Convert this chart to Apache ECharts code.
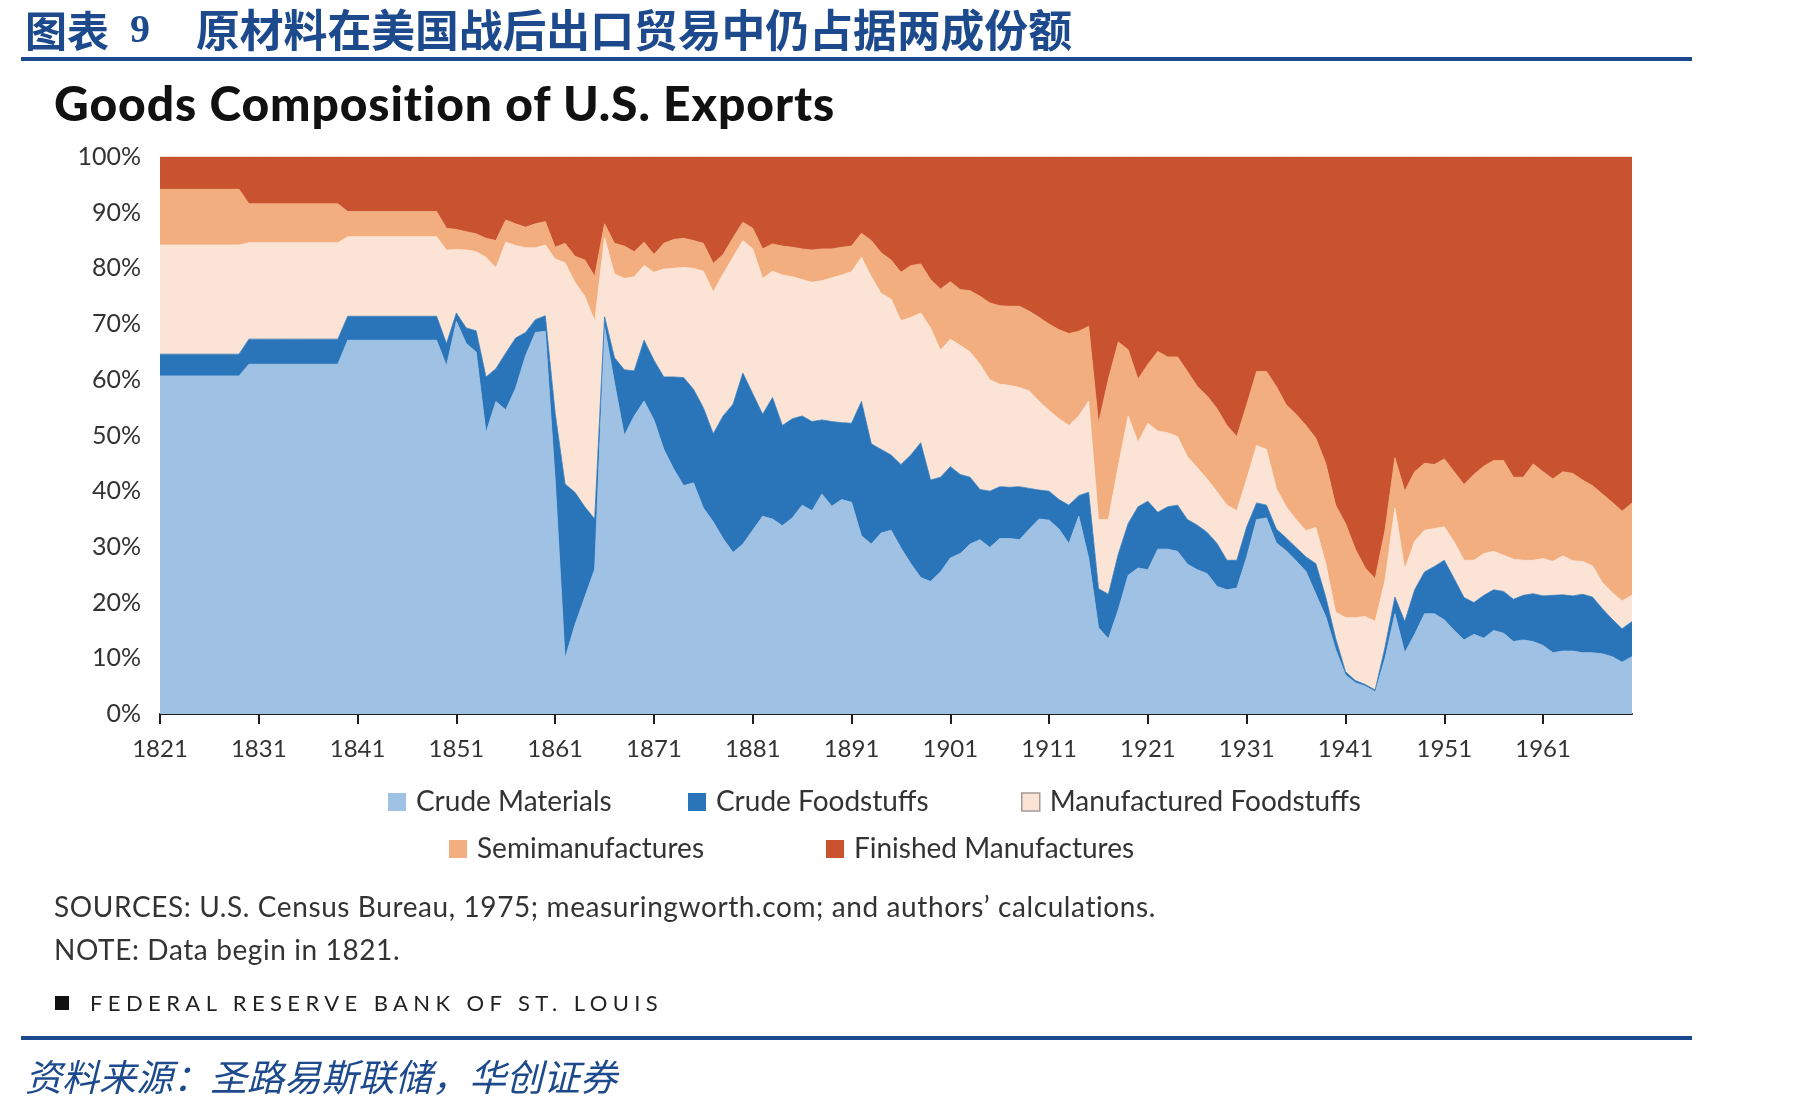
<!DOCTYPE html>
<html>
<head>
<meta charset="utf-8">
<title>Goods Composition of U.S. Exports</title>
<script src="https://cdn.jsdelivr.net/npm/echarts@6.0.0/dist/echarts.min.js"></script>
<style>
  html, body { margin: 0; padding: 0; background: #fff; }
  #page { position: relative; width: 1801px; height: 1108px; overflow: hidden; }
  #chart { position: absolute; left: 0; top: 0; width: 1801px; height: 1108px; }
  .txt { position: absolute; white-space: nowrap; }
  .rule { position: absolute; left: 21px; width: 1671px; height: 4px; background: #1d4a8c; }
  .cn { color: #1d4a8c; font-family: "Noto Sans CJK SC", sans-serif; }
  .en { font-family: Lato, "Open Sans", sans-serif; color: #333; }
</style>
</head>
<body>
<div id="page">
  <div id="chart"></div>

  <div class="txt cn" style="left:25px; top:5px; line-height:48px; font-size:42px; font-weight:700;">图表</div>
  <div class="txt" style="left:130px; top:5px; line-height:48px; font-size:40px; font-weight:700; color:#1d4a8c; font-family:'Liberation Serif', serif;">9</div>
  <div class="txt cn" style="left:196px; top:4px; line-height:48px; font-size:43.8px; font-weight:700;">原材料在美国战后出口贸易中仍占据两成份额</div>
  <div class="rule" style="top:57px;"></div>

  <div class="txt en" style="left:54px; top:74px; line-height:58px; font-size:48px; font-weight:900; letter-spacing:0.9px; color:#111;">Goods Composition of U.S. Exports</div>

  <div class="txt en" style="left:54px; top:890px; line-height:32px; font-size:28px; letter-spacing:0.6px;">SOURCES: U.S. Census Bureau, 1975; measuringworth.com; and authors’ calculations.</div>
  <div class="txt en" style="left:54px; top:933px; line-height:32px; font-size:28px; letter-spacing:0.6px;">NOTE: Data begin in 1821.</div>
  <div style="position:absolute; left:55px; top:996px; width:14px; height:14px; background:#111;"></div>
  <div class="txt en" style="left:90px; top:989px; line-height:28px; font-size:22px; letter-spacing:5.4px; color:#222;">FEDERAL RESERVE BANK OF ST. LOUIS</div>

  <div class="rule" style="top:1036px;"></div>
  <div class="txt cn" style="left:25px; top:1050px; line-height:50px; font-size:37px; font-style:italic;">资料来源：圣路易斯联储，华创证券</div>
</div>

<script>
// shares of total exports (%), one value per year 1821-1970
const years = [
  1821, 1822, 1823, 1824, 1825, 1826, 1827, 1828, 1829, 1830,
  1831, 1832, 1833, 1834, 1835, 1836, 1837, 1838, 1839, 1840,
  1841, 1842, 1843, 1844, 1845, 1846, 1847, 1848, 1849, 1850,
  1851, 1852, 1853, 1854, 1855, 1856, 1857, 1858, 1859, 1860,
  1861, 1862, 1863, 1864, 1865, 1866, 1867, 1868, 1869, 1870,
  1871, 1872, 1873, 1874, 1875, 1876, 1877, 1878, 1879, 1880,
  1881, 1882, 1883, 1884, 1885, 1886, 1887, 1888, 1889, 1890,
  1891, 1892, 1893, 1894, 1895, 1896, 1897, 1898, 1899, 1900,
  1901, 1902, 1903, 1904, 1905, 1906, 1907, 1908, 1909, 1910,
  1911, 1912, 1913, 1914, 1915, 1916, 1917, 1918, 1919, 1920,
  1921, 1922, 1923, 1924, 1925, 1926, 1927, 1928, 1929, 1930,
  1931, 1932, 1933, 1934, 1935, 1936, 1937, 1938, 1939, 1940,
  1941, 1942, 1943, 1944, 1945, 1946, 1947, 1948, 1949, 1950,
  1951, 1952, 1953, 1954, 1955, 1956, 1957, 1958, 1959, 1960,
  1961, 1962, 1963, 1964, 1965, 1966, 1967, 1968, 1969, 1970
]

const crudeMaterials = [
  60.7, 60.7, 60.7, 60.7, 60.7, 60.7, 60.7, 60.7, 60.7, 62.8,
  62.8, 62.8, 62.8, 62.8, 62.8, 62.8, 62.8, 62.8, 62.8, 67.1,
  67.1, 67.1, 67.1, 67.1, 67.1, 67.1, 67.1, 67.1, 67.1, 62.5,
  70.5, 66.5, 65.0, 50.5, 56.1, 54.6, 58.5, 64.3, 68.5, 68.7,
  42.0, 10.0, 16.0, 21.0, 26.0, 69.5, 59.5, 50.0, 53.5, 56.2,
  52.8, 47.5, 44.0, 41.0, 41.5, 37.0, 34.5, 31.5, 29.0, 30.5,
  33.0, 35.5, 35.0, 33.8, 35.2, 37.5, 36.5, 39.5, 37.3, 38.5,
  38.0, 32.0, 30.5, 32.5, 33.0, 29.8, 27.0, 24.5, 23.8, 25.5,
  28.0, 28.8, 30.5, 31.3, 29.9, 31.5, 31.5, 31.3, 33.2, 35.0,
  34.8, 33.2, 30.6, 35.5, 28.0, 15.5, 13.5, 18.7, 24.9, 26.2,
  25.9, 29.6, 29.6, 29.2, 26.9, 25.9, 25.2, 22.9, 22.3, 22.6,
  28.2, 34.9, 35.2, 30.7, 29.3, 27.5, 25.6, 21.5, 17.5, 11.6,
  7.0, 5.6, 5.0, 4.0, 10.0, 18.0, 11.0, 14.3, 18.0, 18.0,
  16.9, 15.0, 13.3, 14.3, 13.6, 15.0, 14.5, 13.0, 13.3, 13.0,
  12.3, 11.0, 11.3, 11.3, 11.0, 11.0, 10.8, 10.3, 9.3, 10.3
]

const crudeFoodstuffs = [
  3.9, 3.9, 3.9, 3.9, 3.9, 3.9, 3.9, 3.9, 3.9, 4.5,
  4.5, 4.5, 4.5, 4.5, 4.5, 4.5, 4.5, 4.5, 4.5, 4.3,
  4.3, 4.3, 4.3, 4.3, 4.3, 4.3, 4.3, 4.3, 4.3, 4.0,
  1.5, 2.8, 3.8, 10.0, 5.9, 10.2, 9.0, 4.2, 2.3, 2.8,
  12.0, 31.3, 23.8, 16.2, 9.0, 1.8, 4.5, 11.8, 8.1, 10.9,
  10.7, 13.0, 16.5, 19.4, 16.8, 18.0, 15.8, 22.0, 26.6, 30.7,
  24.5, 18.3, 21.8, 18.0, 17.8, 16.0, 16.0, 13.3, 15.2, 13.8,
  14.2, 24.1, 18.0, 15.0, 13.5, 15.0, 19.5, 24.2, 18.2, 17.0,
  16.4, 14.2, 12.0, 9.0, 10.1, 9.3, 9.2, 9.5, 7.3, 5.2,
  5.2, 5.3, 6.9, 3.7, 11.8, 7.0, 8.0, 10.0, 9.3, 11.0,
  12.3, 6.6, 7.6, 8.3, 8.0, 8.0, 7.4, 7.7, 5.3, 5.0,
  5.4, 3.0, 2.3, 2.5, 2.3, 2.4, 2.6, 5.5, 3.5, 2.0,
  0.6, 0.4, 0.3, 0.3, 2.0, 3.0, 5.6, 8.0, 7.5, 8.5,
  10.7, 9.3, 7.6, 5.7, 7.7, 7.3, 7.5, 7.6, 8.0, 8.6,
  8.9, 10.3, 10.1, 9.9, 10.5, 10.0, 8.1, 6.7, 6.0, 6.3
]

const manufacturedFoodstuffs = [
  19.6, 19.6, 19.6, 19.6, 19.6, 19.6, 19.6, 19.6, 19.6, 17.3,
  17.3, 17.3, 17.3, 17.3, 17.3, 17.3, 17.3, 17.3, 17.3, 14.3,
  14.3, 14.3, 14.3, 14.3, 14.3, 14.3, 14.3, 14.3, 14.3, 16.8,
  11.4, 14.0, 14.2, 21.5, 18.1, 19.9, 16.6, 15.2, 12.9, 12.7,
  27.7, 39.7, 37.7, 37.8, 35.5, 14.2, 15.0, 16.4, 16.9, 13.4,
  15.8, 19.4, 19.5, 19.8, 21.7, 24.5, 25.5, 25.5, 26.4, 23.8,
  26.0, 24.4, 22.7, 27.0, 25.5, 24.5, 25.0, 25.0, 25.8, 26.5,
  27.2, 25.9, 30.0, 28.0, 28.0, 25.8, 24.7, 23.3, 27.3, 22.8,
  22.9, 23.2, 22.5, 22.5, 20.0, 18.4, 18.3, 17.8, 17.5, 15.9,
  14.5, 14.5, 14.3, 14.3, 16.4, 12.4, 13.4, 15.8, 19.3, 11.6,
  14.0, 14.6, 13.3, 12.3, 11.3, 10.3, 9.6, 9.3, 9.9, 8.9,
  8.6, 10.3, 10.0, 7.3, 5.6, 5.0, 4.7, 6.5, 6.0, 4.7,
  9.7, 11.3, 12.2, 12.3, 12.0, 16.0, 9.4, 8.7, 7.5, 6.8,
  6.0, 6.6, 6.7, 7.6, 7.5, 6.9, 6.5, 7.2, 6.3, 6.0,
  6.7, 6.1, 7.0, 6.3, 5.9, 5.6, 4.7, 4.8, 5.0, 4.7
]

const semimanufactures = [
  10.0, 10.0, 10.0, 10.0, 10.0, 10.0, 10.0, 10.0, 10.0, 7.0,
  7.0, 7.0, 7.0, 7.0, 7.0, 7.0, 7.0, 7.0, 7.0, 4.5,
  4.5, 4.5, 4.5, 4.5, 4.5, 4.5, 4.5, 4.5, 4.5, 3.9,
  3.6, 3.3, 3.2, 3.4, 4.9, 4.0, 3.9, 3.7, 4.3, 4.2,
  2.1, 3.5, 4.7, 6.5, 8.1, 2.5, 5.5, 5.8, 4.5, 4.2,
  3.2, 4.6, 5.2, 5.2, 5.0, 5.0, 5.1, 3.5, 3.5, 3.3,
  3.7, 5.3, 4.9, 5.2, 5.3, 5.5, 5.8, 5.7, 5.2, 5.0,
  4.6, 4.3, 6.5, 7.3, 7.0, 8.7, 9.3, 8.8, 8.7, 11.0,
  10.3, 10.0, 11.0, 12.2, 13.8, 14.1, 14.2, 14.6, 14.3, 15.1,
  15.5, 16.0, 16.5, 15.2, 13.4, 17.3, 25.2, 22.3, 11.9, 11.3,
  10.6, 14.3, 13.6, 14.3, 15.3, 14.6, 14.9, 14.9, 14.3, 13.3,
  13.3, 13.3, 14.0, 18.3, 18.3, 18.9, 18.9, 16.0, 18.0, 19.2,
  16.9, 12.3, 8.7, 7.7, 9.0, 9.0, 14.0, 12.5, 12.0, 11.5,
  12.2, 12.6, 13.6, 15.4, 15.7, 16.3, 17.0, 14.7, 14.9, 17.3,
  15.6, 14.8, 15.1, 15.7, 14.6, 14.4, 15.9, 16.2, 16.1, 16.6
]

const finishedManufactures = [
  5.8, 5.8, 5.8, 5.8, 5.8, 5.8, 5.8, 5.8, 5.8, 8.4,
  8.4, 8.4, 8.4, 8.4, 8.4, 8.4, 8.4, 8.4, 8.4, 9.8,
  9.8, 9.8, 9.8, 9.8, 9.8, 9.8, 9.8, 9.8, 9.8, 12.8,
  13.0, 13.4, 13.8, 14.6, 15.0, 11.3, 12.0, 12.6, 12.0, 11.6,
  16.2, 15.5, 17.8, 18.5, 21.4, 12.0, 15.5, 16.0, 17.0, 15.3,
  17.5, 15.5, 14.8, 14.6, 15.0, 15.5, 19.1, 17.5, 14.5, 11.7,
  12.8, 16.5, 15.6, 16.0, 16.2, 16.5, 16.7, 16.5, 16.5, 16.2,
  16.0, 13.7, 15.0, 17.2, 18.5, 20.7, 19.5, 19.2, 22.0, 23.7,
  22.4, 23.8, 24.0, 25.0, 26.2, 26.7, 26.8, 26.8, 27.7, 28.8,
  30.0, 31.0, 31.7, 31.3, 30.4, 47.8, 39.9, 33.2, 34.6, 39.9,
  37.2, 34.9, 35.9, 35.9, 38.5, 41.2, 42.9, 45.2, 48.2, 50.2,
  44.5, 38.5, 38.5, 41.2, 44.5, 46.2, 48.2, 50.5, 55.0, 62.5,
  65.8, 70.4, 73.8, 75.7, 67.0, 54.0, 60.0, 56.5, 55.0, 55.2,
  54.2, 56.5, 58.8, 57.0, 55.5, 54.5, 54.5, 57.5, 57.5, 55.1,
  56.5, 57.8, 56.5, 56.8, 58.0, 59.0, 60.5, 62.0, 63.6, 62.1
]

const tickYears = [1821, 1831, 1841, 1851, 1861, 1871, 1881, 1891, 1901, 1911, 1921, 1931, 1941, 1951, 1961]

const SERIES = [
  { name: 'Crude Materials', data: crudeMaterials, color: '#9fc2e4' },
  { name: 'Crude Foodstuffs', data: crudeFoodstuffs, color: '#2a75b9' },
  { name: 'Manufactured Foodstuffs', data: manufacturedFoodstuffs, color: '#fbe4d6' },
  { name: 'Semimanufactures', data: semimanufactures, color: '#f3ae7f' },
  { name: 'Finished Manufactures', data: finishedManufactures, color: '#c9522f' }
]

// legend slots: left edge of the square, top of the item
const LEGEND_SLOTS = [
  { left: 388, top: 788 },
  { left: 688, top: 788 },
  { left: 1021, top: 788 },
  { left: 449, top: 835 },
  { left: 826, top: 835 }
]

const FONT = 'Lato, "Open Sans", sans-serif'

function isTickYear(index, value) {
  return tickYears.indexOf(Number(years[index])) !== -1
}

function buildSeries() {
  return SERIES.map((s) => ({
    name: s.name,
    type: 'line',
    stack: 'total',
    data: s.data,
    showSymbol: false,
    symbol: 'none',
    smooth: false,
    color: s.color,
    lineStyle: { width: 0.8, color: s.color },
    areaStyle: { color: s.color, opacity: 1 },
    emphasis: { disabled: true }
  }))
}

function buildLegends() {
  return SERIES.map((s, i) => {
    const item = { name: s.name }
    if (s.name === 'Manufactured Foodstuffs') {
      item.itemStyle = { color: s.color, borderColor: '#a69a92', borderWidth: 1.5 }
    }
    return {
      show: true,
      data: [item],
      left: LEGEND_SLOTS[i].left,
      top: LEGEND_SLOTS[i].top,
      padding: 0,
      itemGap: 0,
      itemWidth: 18,
      itemHeight: 18,
      icon: 'rect',
      selectedMode: false,
      textStyle: {
        fontFamily: FONT,
        fontSize: 28,
        color: '#333',
        padding: [0, 0, 0, 5]
      }
    }
  })
}

const chart = echarts.init(document.getElementById('chart'), null, { renderer: 'canvas' })

chart.setOption({
  animation: false,
  backgroundColor: 'transparent',
  textStyle: { fontFamily: FONT },
  legend: buildLegends(),
  grid: {
    left: 160,
    right: 169,
    top: 157,
    bottom: 394
  },
  xAxis: {
    type: 'category',
    data: years,
    boundaryGap: false,
    axisLine: {
      show: true,
      lineStyle: { color: '#1e1e1e', width: 2 }
    },
    axisTick: {
      show: true,
      interval: isTickYear,
      length: 10,
      lineStyle: { color: '#1e1e1e', width: 2 }
    },
    axisLabel: {
      interval: isTickYear,
      hideOverlap: false,
      fontFamily: FONT,
      fontSize: 24,
      color: '#333',
      margin: 23
    },
    splitLine: { show: false }
  },
  yAxis: {
    type: 'value',
    min: 0,
    max: 100,
    interval: 10,
    axisLine: { show: false },
    axisTick: { show: false },
    splitLine: { show: false },
    axisLabel: {
      fontFamily: FONT,
      fontSize: 25,
      color: '#333',
      margin: 19,
      formatter: '{value}%'
    }
  },
  series: buildSeries()
})
</script>
</body>
</html>
